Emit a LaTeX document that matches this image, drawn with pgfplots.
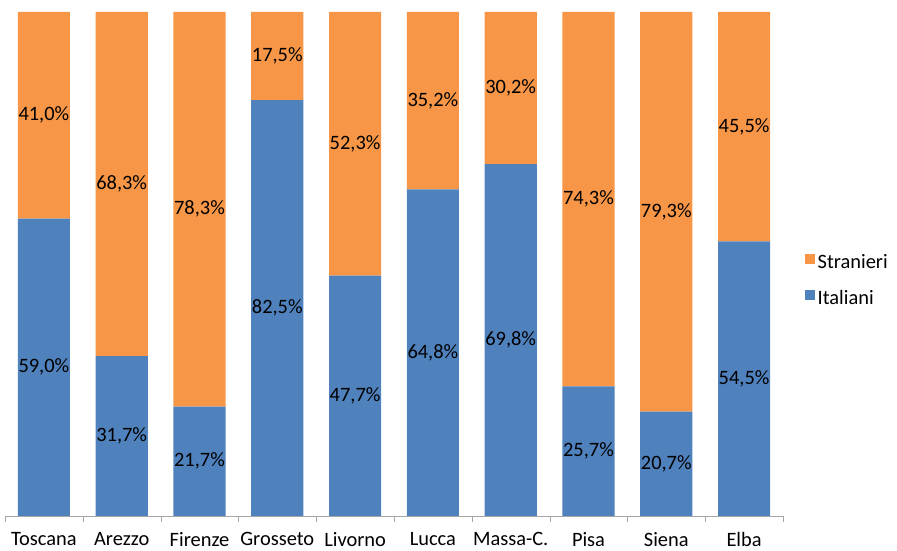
\documentclass[border=0pt]{standalone}
\usepackage{pgfplots}
\usepackage{pgfplotstable}
\pgfplotsset{compat=1.18}
\usepackage{fontspec}
\setmainfont{Carlito}
\definecolor{ita}{HTML}{4F81BD}
\definecolor{str}{HTML}{F79646}
\pgfplotstableread{
x ita str
0 59.0 41.0
1 31.7 68.3
2 21.7 78.3
3 82.5 17.5
4 47.7 52.3
5 64.8 35.2
6 69.8 30.2
7 25.7 74.3
8 20.7 79.3
9 54.5 45.5
}\data
\newcommand{\lblfont}{\fontsize{20.5}{24}\selectfont}
\begin{document}
\begin{tikzpicture}
\begin{axis}[
  at={(0,0)}, anchor=south west,
  scale only axis, width=778bp, height=504bp,
  ybar stacked, bar width=0.67,
  xmin=-0.5, xmax=9.5, ymin=0, ymax=100,
  axis x line=bottom, axis y line=none,
  x axis line style={-, draw=gray!70},
  ytick=\empty,
  xtick=data,
  xticklabels={Toscana,Arezzo,Firenze,Grosseto,Livorno,Lucca,Massa-C.,Pisa,Siena,Elba},
  xticklabel style={font=\lblfont, text=black, yshift=-13bp},
  major tick length=0pt,
  tick align=outside,
  extra x ticks={-0.5,0.5,1.5,2.5,3.5,4.5,5.5,6.5,7.5,8.5,9.5},
  extra x tick labels={},
  extra x tick style={major tick length=6bp, tick style={draw=gray!70}},
  point meta=explicit,
  nodes near coords={\pgfmathprintnumber[fixed, fixed zerofill, precision=1, use comma, assume math mode=true]{\pgfplotspointmeta}\%},
  every node near coord/.append style={anchor=center, font=\lblfont, text=black},
  legend style={draw=none, fill=none, at={(1,0.468)}, anchor=west, xshift=22bp, inner sep=0pt, row sep=15bp, font=\lblfont, nodes={inner sep=2.5bp}},
  legend cell align=left,
  reverse legend,
]
\addplot[fill=ita, draw=none, legend image code/.code={\fill[ita] (0bp,-2bp) rectangle (10bp,8bp);}] table[x=x, y=ita, meta=ita]{\data};
\addplot[fill=str, draw=none, legend image code/.code={\fill[str] (0bp,-2bp) rectangle (10bp,8bp);}] table[x=x, y=str, meta=str]{\data};
\legend{Italiani, Stranieri}
\end{axis}
\pgfresetboundingbox
\useasboundingbox (-5bp,-35bp) rectangle (892bp,516bp);
\end{tikzpicture}
\end{document}
